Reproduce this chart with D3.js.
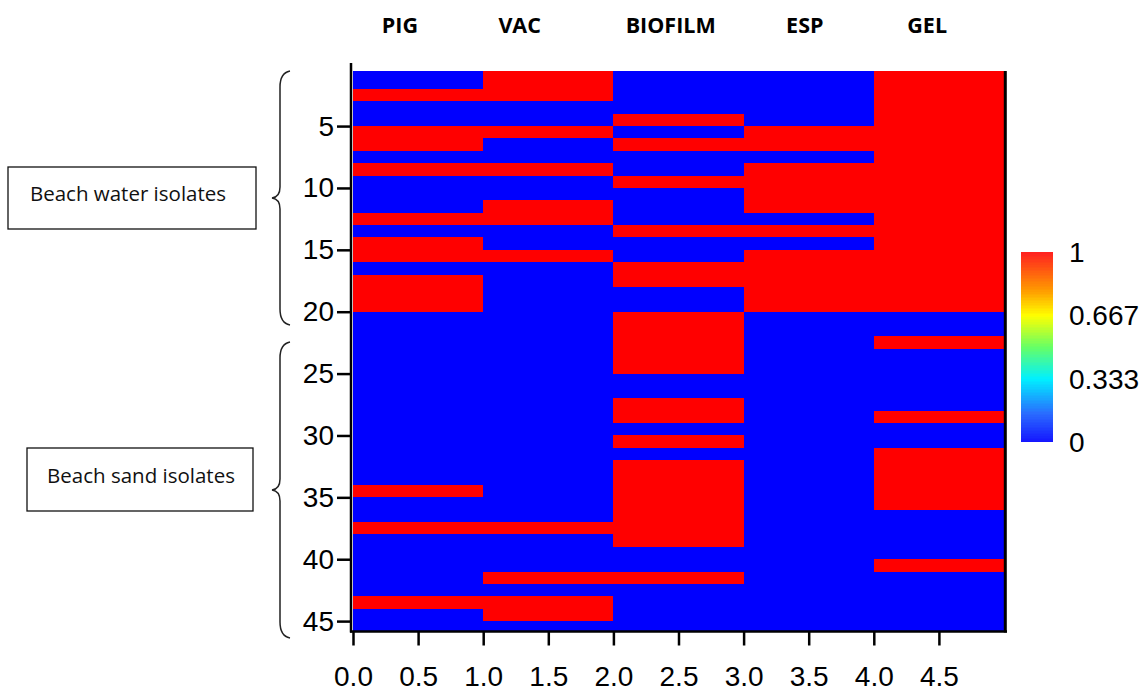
<!DOCTYPE html>
<html>
<head>
<meta charset="utf-8">
<script src="https://cdn.jsdelivr.net/npm/d3@7/dist/d3.min.js"></script>
<style>
  html, body { margin: 0; padding: 0; background: #fff; }
  svg { display: block; }
</style>
</head>
<body>
<svg id="chart" width="1144" height="691"></svg>
<script>
// ---------------- data ----------------
const categories = ["PIG", "VAC", "BIOFILM", "ESP", "GEL"];
const pig     = [0,0,1,0,0,1,1,0,1,0, 0,0,1,0,1,1,0,1,1,1, 0,0,0,0,0,0,0,0,0,0, 0,0,0,0,1,0,0,1,0,0, 0,0,0,1,0,0];
const vac     = [1,1,1,0,0,1,0,0,1,0, 0,1,1,0,0,1,0,0,0,0, 0,0,0,0,0,0,0,0,0,0, 0,0,0,0,0,0,0,1,0,0, 0,1,0,1,1,0];
const biofilm = [0,0,0,0,1,0,1,0,0,1, 0,0,0,1,0,0,1,1,0,0, 1,1,1,1,1,0,0,1,1,0, 1,0,1,1,1,1,1,1,1,0, 0,1,0,0,0,0];
const esp     = [0,0,0,0,0,1,1,0,1,1, 1,1,0,1,0,1,1,1,1,1, 0,0,0,0,0,0,0,0,0,0, 0,0,0,0,0,0,0,0,0,0, 0,0,0,0,0,0];
const gel     = [1,1,1,1,1,1,1,1,1,1, 1,1,1,1,1,1,1,1,1,1, 0,0,1,0,0,0,0,0,1,0, 0,1,1,1,1,1,0,0,0,0, 1,0,0,0,0,0];
const columns = [pig, vac, biofilm, esp, gel];
const xTickValues = [0, 0.5, 1, 1.5, 2, 2.5, 3, 3.5, 4, 4.5];
const xTickLabels = ["0.0","0.5","1.0","1.5","2.0","2.5","3.0","3.5","4.0","4.5"];
const yTickValues = [5, 10, 15, 20, 25, 30, 35, 40, 45];
const cbTickValues = [0, 0.333, 0.667, 1];
const cbTickLabels = ["0", "0.333", "0.667", "1"];
const groupLabels = ["Beach water isolates", "Beach sand isolates"];

// ---------------- layout ----------------
const svg = d3.select("#chart");
const plot = { left: 353, right: 1004, top: 71, bottom: 631 };
const yDomain = [0.55, 45.8];

const x = d3.scaleLinear().domain([0, 5]).range([plot.left, plot.right]);
const y = d3.scaleLinear().domain(yDomain).range([plot.top, plot.bottom]);
const cellColor = d3.scaleLinear().domain([0, 1]).range(["#0000ff", "#ff0000"]);
const jet = d3.scaleLinear()
  .domain([0, 0.15, 0.333, 0.5, 0.667, 0.8, 1])
  .range(["#1414ff", "#2a6bff", "#00f0ff", "#66ff66", "#ffff00", "#ff9a00", "#ff2020"]);

const numFont = "'Liberation Sans', Arial, sans-serif";
const textFont = "'Open Sans', 'Noto Sans', sans-serif";
const numSize = "28px";

// clip for cells
svg.append("defs").append("clipPath").attr("id", "plotclip")
  .append("rect")
  .attr("x", plot.left).attr("y", plot.top)
  .attr("width", plot.right - plot.left).attr("height", plot.bottom - plot.top);

// ---------------- cells ----------------
const cells = [];
columns.forEach((col, ci) => {
  col.forEach((v, ri) => cells.push({ c: ci, r: ri, v: v }));
});
svg.append("g").attr("clip-path", "url(#plotclip)")
  .selectAll("rect").data(cells).join("rect")
  .attr("x", d => x(d.c))
  .attr("width", d => x(d.c + 1) - x(d.c))
  .attr("y", d => y(d.r))
  .attr("height", d => y(d.r + 1) - y(d.r) + 0.5)
  .attr("fill", d => cellColor(d.v))
  .attr("shape-rendering", "crispEdges");

// ---------------- axes frame ----------------
const frame = svg.append("g").attr("stroke", "#000").attr("fill", "none");
frame.append("line").attr("x1", 351).attr("x2", 351).attr("y1", 63).attr("y2", 632.5).attr("stroke-width", 2.5);
frame.append("line").attr("x1", 350).attr("x2", 1007).attr("y1", 631.5).attr("y2", 631.5).attr("stroke-width", 2.5);
frame.append("line").attr("x1", 1005.3).attr("x2", 1005.3).attr("y1", plot.top).attr("y2", 632.5).attr("stroke-width", 3);

// y axis
const yAxis = d3.axisLeft(y).tickValues(yTickValues).tickSize(14).tickPadding(3).tickFormat(d3.format("d"));
const gy = svg.append("g").attr("transform", "translate(351,0)").call(yAxis);
gy.select(".domain").remove();
gy.selectAll(".tick line").attr("stroke", "#000").attr("stroke-width", 2.5);
gy.selectAll(".tick text").attr("fill", "#000").style("font-family", numFont).style("font-size", numSize);

// x axis
const xAxis = d3.axisBottom(x).tickValues(xTickValues).tickSize(14).tickPadding(21)
  .tickFormat((d, i) => xTickLabels[i]);
const gx = svg.append("g").attr("transform", "translate(0,631.5)").call(xAxis);
gx.select(".domain").remove();
gx.selectAll(".tick line").attr("stroke", "#000").attr("stroke-width", 2.5);
gx.selectAll(".tick text").attr("fill", "#000").style("font-family", numFont).style("font-size", numSize);

// ---------------- column headers ----------------
const headerShift = [-0.14, -0.22, -0.06, -0.03, -0.09];
svg.append("g").selectAll("text").data(categories).join("text")
  .attr("x", (d, i) => x(i + 0.5 + headerShift[i]))
  .attr("y", 33)
  .attr("text-anchor", "middle")
  .style("font-family", textFont)
  .style("font-weight", "bold")
  .style("font-size", "21.5px")
  .attr("fill", "#000")
  .text(d => d);

// ---------------- colorbar ----------------
const cb = { x: 1021, w: 32, top: 252, bottom: 442 };
const cy = d3.scaleLinear().domain([0, 1]).range([cb.bottom, cb.top]);
const nBands = 120;
const bands = d3.range(nBands).map(i => i / nBands);
svg.append("g").selectAll("rect").data(bands).join("rect")
  .attr("x", cb.x).attr("width", cb.w)
  .attr("y", d => cy(d + 1 / nBands))
  .attr("height", d => cy(d) - cy(d + 1 / nBands) + 0.4)
  .attr("fill", d => jet(d + 0.5 / nBands))
  .attr("shape-rendering", "crispEdges");
svg.append("g").selectAll("text").data(cbTickValues).join("text")
  .attr("x", 1069)
  .attr("y", d => cy(d))
  .attr("dy", "0.36em")
  .style("font-family", numFont)
  .style("font-size", numSize)
  .attr("fill", "#000")
  .text((d, i) => cbTickLabels[i]);

// ---------------- group annotations ----------------
const boxes = [
  { x0: 8, x1: 256, y0: 167, y1: 229, tx: 128 },
  { x0: 27, x1: 253, y0: 448, y1: 511, tx: 141 }
];
const ann = svg.append("g");
boxes.forEach((b, i) => {
  ann.append("rect").attr("x", b.x0).attr("y", b.y0).attr("width", b.x1 - b.x0).attr("height", b.y1 - b.y0)
    .attr("fill", "#fff").attr("stroke", "#111").attr("stroke-width", 1.3);
  ann.append("text").attr("x", b.tx).attr("y", (b.y0 + b.y1) / 2 - 4).attr("dy", "0.35em")
    .attr("text-anchor", "middle")
    .style("font-family", textFont).style("font-size", "20.5px").attr("fill", "#111")
    .text(groupLabels[i]);
});

function bracePath(top, mid, bottom) {
  const xr = 290, xl = 280, xt = 272;
  return `M${xr},${top} Q${xl},${top + 2} ${xl},${top + 16} L${xl},${mid - 11} Q${xl},${mid - 1} ${xt},${mid}` +
         ` Q${xl},${mid + 1} ${xl},${mid + 11} L${xl},${bottom - 16} Q${xl},${bottom - 2} ${xr},${bottom}`;
}
ann.append("path").attr("d", bracePath(71, 198, 325)).attr("fill", "none").attr("stroke", "#222").attr("stroke-width", 1.5);
ann.append("path").attr("d", bracePath(342, 490, 638)).attr("fill", "none").attr("stroke", "#222").attr("stroke-width", 1.5);
</script>
</body>
</html>
